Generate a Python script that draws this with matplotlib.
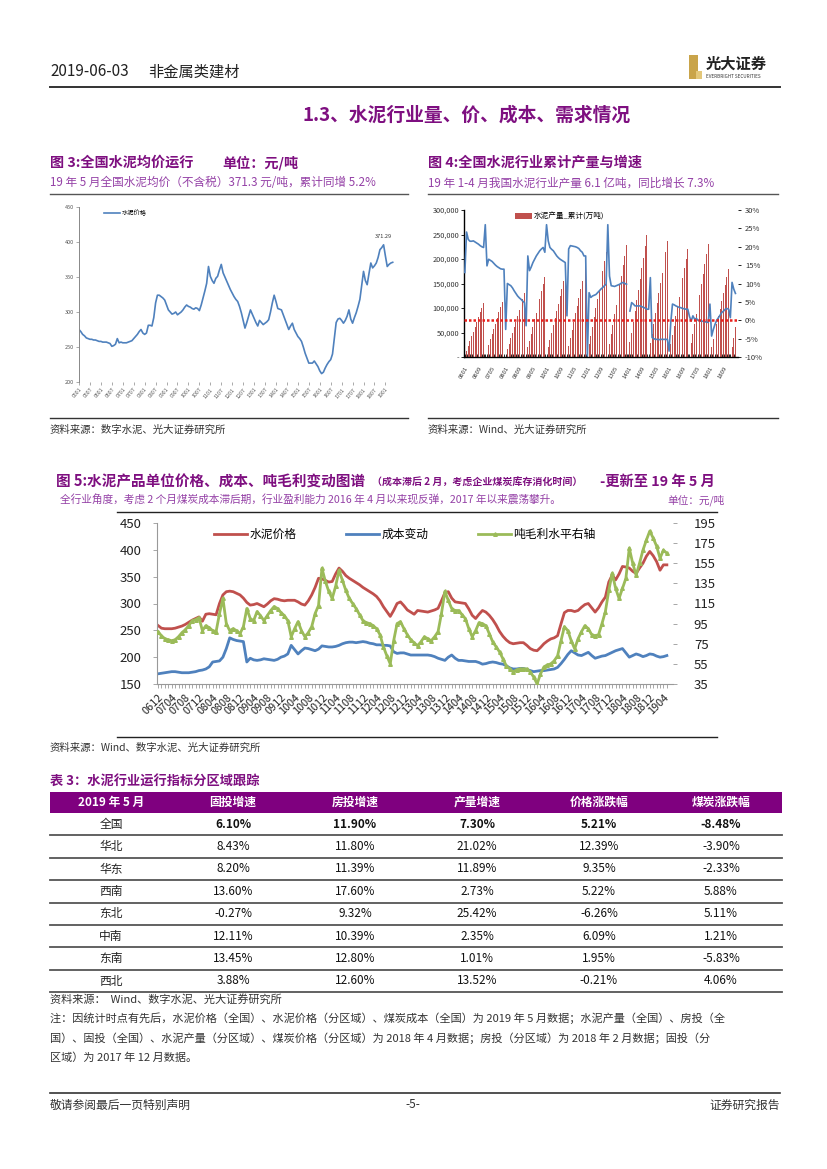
import matplotlib
matplotlib.use('Agg')
import matplotlib.pyplot as plt
import numpy as np
from matplotlib.patches import Rectangle
from matplotlib.lines import Line2D

plt.rcParams['font.family'] = ['Noto Sans CJK SC', 'DejaVu Sans']
plt.rcParams['axes.unicode_minus'] = False

# ---------------- data ----------------
# Fig 3: national cement average price, monthly 2005-01 .. 2019-05
price3 = [275, 272, 268, 266, 263, 262, 261, 261, 260, 260, 259, 258,
          258, 257, 257, 257, 256, 255, 251, 252, 254, 262, 256, 257,
          256, 256, 256, 257, 258, 259, 262, 265, 268, 272, 275, 270,
          268, 270, 281, 281, 280, 292, 313, 324, 324, 322, 320, 317,
          310, 303, 300, 297, 298, 300, 296, 298, 300, 303, 307, 310,
          308, 307, 305, 304, 306, 305, 302, 310, 320, 330, 341, 365,
          351, 345, 341, 348, 351, 360, 368, 356, 350, 344, 338, 332,
          327, 322, 318, 315, 308, 299, 288, 277, 285, 294, 303, 297,
          291, 285, 280, 288, 285, 282, 284, 286, 289, 300, 313, 324,
          315, 305, 304, 303, 296, 289, 282, 275, 280, 284, 275, 270,
          265, 262, 258, 250, 241, 234, 227, 227, 227, 230, 226, 222,
          216, 212, 214, 220, 225, 229, 232, 240, 262, 285, 290, 291,
          288, 284, 288, 294, 303, 290, 284, 292, 299, 308, 318, 338,
          358, 345, 339, 355, 370, 363, 366, 370, 378, 389, 392, 396,
          380, 365, 368, 370, 371]
labels3 = ['0501', '0507', '0601', '0607', '0701', '0707', '0801', '0807', '0901', '0907',
           '1001', '1007', '1101', '1107', '1201', '1207', '1301', '1307', '1401', '1407',
           '1501', '1507', '1601', '1607', '1701', '1707', '1801', '1807', '1901']

# Fig 4: cumulative cement output (万吨) and cumulative YoY (%), monthly 2006-01 .. 2019-04
prod4 = [0, 13000, 22000, 32000, 42000, 52000, 61000, 71000, 81000, 91000, 101000, 111000,
         0, 15000, 25000, 36000, 47000, 58000, 68000, 79000, 91000, 102000, 113000, 124000,
         0, 16000, 26000, 38000, 49000, 61000, 72000, 83000, 95000, 107000, 118000, 130000,
         0, 20000, 33000, 47000, 62000, 77000, 90000, 104000, 119000, 134000, 148000, 163000,
         0, 20000, 34000, 49000, 65000, 80000, 94000, 109000, 124000, 139000, 155000, 170000,
         0, 23000, 38000, 55000, 72000, 89000, 104000, 121000, 138000, 155000, 172000, 189000,
         0, 26000, 43000, 62000, 81000, 101000, 118000, 137000, 156000, 175000, 195000, 214000,
         0, 27000, 46000, 66000, 87000, 107000, 125000, 146000, 166000, 187000, 207000, 228000,
         0, 30000, 50000, 72000, 94000, 117000, 136000, 159000, 181000, 203000, 226000, 248000,
         0, 28000, 47000, 68000, 90000, 111000, 130000, 151000, 172000, 194000, 215000, 236000,
         0, 27000, 44000, 64000, 84000, 104000, 122000, 141000, 161000, 181000, 201000, 221000,
         0, 28000, 46000, 67000, 88000, 109000, 127000, 148000, 169000, 189000, 210000, 231000,
         0, 21000, 36000, 52000, 68000, 84000, 98000, 115000, 131000, 147000, 163000, 179000,
         0, 21000, 39000, 62000]
growth4 = [13, 24, 22, 21.5, 21.5, 21.6, 21.3, 21, 20.7, 20.3, 20, 19.8,
           26, 14.8, 16.6, 16.3, 16, 15.5, 15, 14.6, 14.3, 14, 13.9, 13.9,
           -2.5, 10, 9.7, 9.4, 8.8, 8, 7.3, 6.6, 6.1, 5.7, 5.2, 4.8,
           -1.5, 17.5, 13.5, 14.5, 15.7, 16.6, 17.5, 18.2, 18.9, 19.4, 19.8, 18.5,
           26, 21.6, 19.8, 19.3, 18.9, 18.2, 17.5, 17, 16.6, 16.3, 16, 15.7,
           1.2, 19.4, 20.3, 20.2, 20.1, 20, 19.8, 19.5, 18.9, 18.5, 17.5, 17.5,
           -9.7, 7.5, 6.2, 6.6, 6.8, 7, 7.5, 8, 8.5, 8.9, 9.4, 9.8,
           26, 12, 9.4, 9.3, 9.2, 9.4, 9.6, 9.8, 10.1, 10.3, 10, 9.8,
           np.nan, 2.5, 4.8, 4.4, 3.9, 3.9, 3.9, 3.9, 3.7, 3.5, 3.3, 3,
           3, 11.6, -4.7, -5, -5.2, -5.2, -5.3, -5.2, -5.2, -5.2, -5.2, -5.2,
           -8.4, -0.6, 4.4, 4.2, 3.9, 3.7, 3.5, 3.4, 3.2, 3.1, 3, 3,
           1, -0.2, 1.2, 0.3, 0.5, 0, -0.2, -0.2, -0.3, -0.4, -0.5, -0.6,
           4.4, -4.3, -2.5, -1.1, 0, 0.7, 1.4, 2.1, 2.5, 3, 3.2, 3,
           0.7, 10.3, 8.5, 7.3]
labels4 = ['0601', '0609', '0705', '0801', '0809', '0905', '1001', '1009', '1105', '1201',
           '1209', '1305', '1401', '1409', '1505', '1601', '1609', '1705', '1801', '1809']

# Fig 5: price / cost / gross profit per ton, monthly 2006-12 .. 2019-05
price5 = [259, 254, 253, 253, 253, 254, 256, 258, 261, 265,
          269, 272, 275, 267, 280, 281, 280, 279, 300, 316,
          322, 323, 322, 319, 316, 310, 302, 297, 298, 300,
          297, 294, 299, 305, 309, 308, 306, 305, 306, 306,
          306, 303, 299, 297, 305, 316, 330, 347, 346, 343,
          340, 341, 355, 366, 360, 352, 347, 343, 339, 335,
          330, 326, 322, 318, 313, 305, 294, 285, 276, 287,
          300, 303, 296, 288, 284, 280, 287, 286, 285, 284,
          286, 288, 291, 305, 320, 322, 310, 303, 302, 301,
          300, 290, 278, 272, 280, 287, 284, 278, 270, 260,
          248, 239, 232, 227, 225, 226, 227, 227, 222, 216,
          213, 212, 218, 225, 230, 234, 236, 240, 262, 283,
          287, 287, 285, 287, 293, 298, 300, 292, 284, 292,
          303, 312, 340, 353, 344, 355, 369, 368, 366, 360,
          356, 366, 375, 388, 397, 389, 378, 362, 372, 372]
cost5 = [169, 170, 171, 172, 173, 173, 172, 171, 171, 171,
         172, 173, 175, 176, 178, 182, 191, 192, 193, 200,
         216, 236, 233, 231, 230, 229, 191, 198, 195, 194,
         195, 197, 196, 195, 194, 196, 200, 202, 206, 222,
         214, 206, 212, 217, 216, 214, 212, 215, 221, 220,
         219, 219, 220, 222, 225, 227, 228, 228, 227, 228,
         229, 228, 226, 225, 223, 223, 222, 222, 221, 210,
         207, 208, 208, 206, 204, 204, 204, 204, 204, 204,
         203, 201, 198, 196, 194, 200, 204, 198, 194, 194,
         193, 192, 192, 192, 190, 187, 188, 190, 191, 190,
         188, 187, 184, 180, 178, 178, 179, 179, 177, 175,
         173, 174, 175, 175, 176, 177, 178, 181, 188, 196,
         205, 212, 208, 204, 203, 206, 209, 203, 198, 200,
         202, 203, 206, 209, 212, 214, 216, 208, 200, 203,
         206, 204, 201, 203, 206, 205, 202, 200, 201, 203]
profit5 = [87, 83, 80, 79, 78, 79, 82, 86, 89, 93,
           98, 99, 101, 88, 93, 91, 88, 87, 105, 120,
           95, 88, 90, 88, 85, 92, 110, 100, 98, 107,
           103, 98, 103, 108, 112, 110, 106, 103, 98, 82,
           90, 97, 88, 82, 86, 92, 105, 113, 150, 137,
           127, 120, 132, 148, 138, 128, 120, 115, 110, 104,
           98, 96, 95, 93, 90, 84, 72, 63, 55, 78,
           95, 97, 90, 84, 79, 76, 73, 77, 82, 80,
           78, 82, 87, 105, 127, 118, 110, 108, 108, 104,
           100, 90, 82, 88, 96, 95, 93, 85, 77, 72,
           67, 60, 53, 50, 47, 49, 50, 50, 50, 47,
           42, 35, 45, 52, 54, 55, 58, 63, 78, 92,
           88, 78, 70, 80, 87, 93, 90, 84, 83, 84,
           95, 107, 128, 145, 130, 120, 130, 140, 170, 155,
           143, 155, 168, 178, 187, 180, 172, 160, 168, 165]
labels5 = ['0612', '0704', '0708', '0712', '0804', '0808', '0812', '0904', '0908', '0912',
           '1004', '1008', '1012', '1104', '1108', '1112', '1204', '1208', '1212', '1304',
           '1308', '1312', '1404', '1408', '1412', '1504', '1508', '1512', '1604', '1608',
           '1612', '1704', '1708', '1712', '1804', '1808', '1812', '1904']

# Table 3
tbl_headers = ['2019 年 5 月', '固投增速', '房投增速', '产量增速', '价格涨跌幅', '煤炭涨跌幅']
regions = ['全国', '华北', '华东', '西南', '东北', '中南', '东南', '西北']
fixed_inv = ['6.10%', '8.43%', '8.20%', '13.60%', '-0.27%', '12.11%', '13.45%', '3.88%']
estate_inv = ['11.90%', '11.80%', '11.39%', '17.60%', '9.32%', '10.39%', '12.80%', '12.60%']
output_g = ['7.30%', '21.02%', '11.89%', '2.73%', '25.42%', '2.35%', '1.01%', '13.52%']
price_chg = ['5.21%', '12.39%', '9.35%', '5.22%', '-6.26%', '6.09%', '1.95%', '-0.21%']
coal_chg = ['-8.48%', '-3.90%', '-2.33%', '5.88%', '5.11%', '1.21%', '-5.83%', '4.06%']

# ---------------- page ----------------
W, H = 827, 1169
fig = plt.figure(figsize=(W / 100, H / 100), dpi=100)
fig.patch.set_facecolor('white')

PURPLE = '#7E0F80'
SUBP = '#9440A6'
RED = '#C0504D'
BLUE = '#4F81BD'
GREEN = '#9BBB59'


def axpx(l, t, r, b):
    return fig.add_axes([l / W, 1 - b / H, (r - l) / W, (b - t) / H])


def txt(x, y, s, **kw):
    kw.setdefault('va', 'center')
    return fig.text(x / W, 1 - y / H, s, **kw)


def hline(x0, x1, y, lw=1.0, color='black'):
    fig.add_artist(Line2D([x0 / W, x1 / W], [1 - y / H, 1 - y / H], lw=lw, color=color))


# header
txt(50, 72, '2019-06-03', fontsize=11, color='#222222')
txt(148, 72, '非金属类建材', fontsize=11, color='#222222')
hline(50, 780, 87, lw=1.4, color='#333333')
fig.add_artist(Rectangle((689 / W, 1 - 79 / H), 9 / W, 24 / H, transform=fig.transFigure,
                         facecolor='#C9A44A', edgecolor='none'))
fig.add_artist(Rectangle((696 / W, 1 - 79 / H), 6 / W, 8 / H, transform=fig.transFigure,
                         facecolor='#E3C77A', edgecolor='none'))
txt(706, 64, '光大证券', fontsize=11, fontweight='bold', color='#222222')
txt(706, 76, 'EVERBRIGHT SECURITIES', fontsize=3.3, color='#333333')

txt(467, 115, '1.3、水泥行业量、价、成本、需求情况', ha='center', fontsize=13.5,
    fontweight='bold', color=PURPLE)

# ---------------- Fig 3 ----------------
txt(50, 163, '图 3:全国水泥均价运行', fontsize=10.2, fontweight='bold', color=PURPLE)
txt(222, 163, '单位：元/吨', fontsize=10.2, fontweight='bold', color=PURPLE)
txt(50, 183, '19 年 5 月全国水泥均价（不含税）371.3 元/吨，累计同增 5.2%', fontsize=8.4, color=SUBP)
hline(50, 408, 194, lw=1.0, color='#555555')
hline(50, 408, 418, lw=1.0, color='#333333')
txt(50, 430, '资料来源：数字水泥、光大证券研究所', fontsize=7.5, color='#333333')

ax3 = axpx(79, 207, 400, 382)
x3 = np.arange(len(price3))
ax3.plot(x3, price3, color=BLUE, lw=1.2, label='水泥价格')
ax3.set_xlim(0, 176)
ax3.set_ylim(200, 450)
ax3.set_yticks([200, 250, 300, 350, 400, 450])
ax3.set_yticklabels(['200', '250', '300', '350', '400', '450'], fontsize=4, color='#555555')
ax3.set_xticks(np.arange(0, len(labels3) * 6, 6))
ax3.set_xticklabels(labels3, rotation=50, fontsize=3.8, color='#555555', ha='right',
                    rotation_mode='anchor')
for s in ['top', 'right', 'bottom']:
    ax3.spines[s].set_visible(False)
ax3.spines['left'].set_color('#888888')
ax3.spines['left'].set_linewidth(0.7)
ax3.tick_params(axis='both', length=2, width=0.5, color='#888888', pad=1.5)
peak3 = int(np.argmax(price3))
ax3.annotate('371.29', xy=(x3[peak3], price3[peak3]), xytext=(-6, 5),
             textcoords='offset points', fontsize=4, color='#333333')
ax3.legend(loc='upper left', bbox_to_anchor=(0.06, 1.02), frameon=False, fontsize=4.5,
           handlelength=2.5, handletextpad=0.3)

# ---------------- Fig 4 ----------------
txt(428, 163, '图 4:全国水泥行业累计产量与增速', fontsize=10.2, fontweight='bold', color=PURPLE)
txt(428, 183, '19 年 1-4 月我国水泥行业产量 6.1 亿吨，同比增长 7.3%', fontsize=8.4, color=SUBP)
hline(428, 778, 194, lw=1.0, color='#555555')
hline(428, 778, 418, lw=1.0, color='#333333')
txt(428, 430, '资料来源：Wind、光大证券研究所', fontsize=7.5, color='#333333')

ax4 = axpx(464, 210, 738, 357)
x4 = np.arange(len(prod4))
ax4.bar(x4, prod4, width=0.55, color=RED, label='水泥产量_累计(万吨)', zorder=2)
ax4.set_xlim(-0.5, len(prod4) + 0.5)
ax4.set_ylim(0, 300000)
ax4.set_yticks([0, 50000, 100000, 150000, 200000, 250000, 300000])
ax4.set_yticklabels(['-', '50,000', '100,000', '150,000', '200,000', '250,000', '300,000'],
                    fontsize=5.3, color='#333333')
ax4.set_xticks(np.arange(0, len(labels4) * 8, 8))
ax4.set_xticklabels(labels4, rotation=60, fontsize=4.3, ha='right', rotation_mode='anchor',
                    color='#333333')
ax4.set_xticks(x4, minor=True)
ax4.tick_params(axis='x', which='both', length=2, width=0.6, direction='in', pad=6)
ax4.tick_params(axis='y', length=2, width=0.6, pad=1.5)
ax4.spines['top'].set_visible(False)
ax4.spines['right'].set_visible(False)
ax4.spines['left'].set_linewidth(1.0)
ax4.spines['bottom'].set_linewidth(1.0)
ax4b = ax4.twinx()
ax4b.plot(x4, growth4, color=BLUE, lw=1.2, zorder=3)
ax4b.axhline(0, color='#E8201C', lw=1.8, ls=(0, (1, 0.8)), zorder=4)
ax4b.set_ylim(-10, 30)
ax4b.set_yticks([-10, -5, 0, 5, 10, 15, 20, 25, 30])
ax4b.set_yticklabels(['-10%', '-5%', '0%', '5%', '10%', '15%', '20%', '25%', '30%'],
                     fontsize=5.5, color='#333333')
ax4b.tick_params(axis='y', length=2, width=0.6, pad=3)
for s in ['top', 'right', 'left', 'bottom']:
    ax4b.spines[s].set_visible(False)
ax4.legend(loc='upper left', bbox_to_anchor=(0.16, 1.03), frameon=False, fontsize=5.5,
           handlelength=2.2, handleheight=0.9, handletextpad=0.3)

# ---------------- Fig 5 ----------------
txt(56, 482, '图 5:水泥产品单位价格、成本、吨毛利变动图谱', fontsize=10.5, fontweight='bold', color=PURPLE)
txt(372, 483, '（成本滞后 2 月，考虑企业煤炭库存消化时间）', fontsize=7.2, fontweight='bold', color=PURPLE)
txt(600, 482, '-更新至 19 年 5 月', fontsize=10.3, fontweight='bold', color=PURPLE)
txt(60, 500, '全行业角度，考虑 2 个月煤炭成本滞后期，行业盈利能力 2016 年 4 月以来现反弹，2017 年以来震荡攀升。',
    fontsize=7.7, color=SUBP)
txt(667, 500, '单位：元/吨', fontsize=7.7, color=SUBP)
hline(117, 717, 512, lw=1.0, color='#222222')
hline(117, 717, 737, lw=1.0, color='#222222')
txt(50, 748, '资料来源：Wind、数字水泥、光大证券研究所', fontsize=7.5, color='#333333')

ax5 = axpx(157, 523, 673, 684)
x5 = np.arange(len(price5))
l1, = ax5.plot(x5, price5, color=RED, lw=2.0, label='水泥价格')
l2, = ax5.plot(x5, cost5, color=BLUE, lw=2.0, label='成本变动')
ax5.set_xlim(-0.3, len(price5) + 0.8)
ax5.set_ylim(150, 450)
ax5.set_yticks([150, 200, 250, 300, 350, 400, 450])
ax5.set_yticklabels(['150', '200', '250', '300', '350', '400', '450'], fontsize=9.5, color='#222222')
ax5.set_xticks(np.arange(0, len(labels5) * 4, 4))
ax5.set_xticklabels(labels5, rotation=45, fontsize=7.8, ha='right', rotation_mode='anchor',
                    color='#222222')
ax5.set_xticks(x5, minor=True)
ax5.tick_params(axis='x', which='both', length=3, width=0.6, color='#999999', pad=3)
ax5.tick_params(axis='y', length=3, width=0.6, color='#999999', pad=8)
ax5.spines['top'].set_visible(False)
ax5.spines['right'].set_visible(False)
ax5.spines['left'].set_color('#999999')
ax5.spines['bottom'].set_color('#999999')
ax5b = ax5.twinx()
l3, = ax5b.plot(x5, profit5, color=GREEN, lw=2.0, marker='^', markersize=2.6, label='吨毛利水平右轴')
ax5b.set_ylim(35, 195)
ax5b.set_yticks([35, 55, 75, 95, 115, 135, 155, 175, 195])
ax5b.set_yticklabels(['35', '55', '75', '95', '115', '135', '155', '175', '195'], fontsize=9.5,
                     color='#222222')
ax5b.tick_params(axis='y', length=3, width=0.6, color='#999999', pad=12)
for s in ['top', 'right', 'left', 'bottom']:
    ax5b.spines[s].set_visible(False)
ax5b.legend(handles=[l1, l2, l3], loc='upper left', bbox_to_anchor=(0.09, 1.035), ncol=3,
            frameon=False, fontsize=8.5, handlelength=2.8, columnspacing=4.2, handletextpad=0.2)

# ---------------- Table 3 ----------------
txt(50, 782, '表 3：水泥行业运行指标分区域跟踪', fontsize=9.5, fontweight='bold', color=PURPLE)
tx0, tx1 = 50, 782
col_w = (tx1 - tx0) / 6
hdr_top, hdr_bot = 792, 813
row_h = 22.4
fig.add_artist(Rectangle((tx0 / W, 1 - hdr_bot / H), (tx1 - tx0) / W, (hdr_bot - hdr_top) / H,
                         transform=fig.transFigure, facecolor='#7F007F', edgecolor='none'))
for j, h in enumerate(tbl_headers):
    txt(tx0 + col_w * (j + 0.5), (hdr_top + hdr_bot) / 2, h, ha='center', fontsize=8.5,
        fontweight='bold', color='white')
cols = [fixed_inv, estate_inv, output_g, price_chg, coal_chg]
for i, r in enumerate(regions):
    yc = hdr_bot + row_h * (i + 0.5)
    txt(tx0 + col_w * 0.5, yc, r, ha='center', fontsize=8.5, color='#222222')
    for j, c in enumerate(cols):
        txt(tx0 + col_w * (j + 1.5), yc, c[i], ha='center', fontsize=8.5, color='#111111',
            fontweight='bold' if i == 0 else 'normal')
    hline(tx0, tx1, hdr_bot + row_h * (i + 1), lw=1.3, color='#555555')

txt(50, 999, '资料来源：  Wind、数字水泥、光大证券研究所', fontsize=8, color='#333333')
notes = ['注：因统计时点有先后，水泥价格（全国）、水泥价格（分区域）、煤炭成本（全国）为 2019 年 5 月数据；水泥产量（全国）、房投（全',
         '国）、固投（全国）、水泥产量（分区域）、煤炭价格（分区域）为 2018 年 4 月数据；房投（分区域）为 2018 年 2 月数据；固投（分',
         '区域）为 2017 年 12 月数据。']
for k, n in enumerate(notes):
    txt(50, 1018 + 20 * k, n, fontsize=8, color='#333333')

# footer
hline(50, 780, 1093, lw=1.2, color='#333333')
txt(50, 1105, '敬请参阅最后一页特别声明', fontsize=8.5, color='#333333')
txt(413, 1105, '-5-', ha='center', fontsize=8.5, color='#333333')
txt(780, 1105, '证券研究报告', ha='right', fontsize=8.5, color='#333333')

fig.savefig('out.png', dpi=100, facecolor='white')
